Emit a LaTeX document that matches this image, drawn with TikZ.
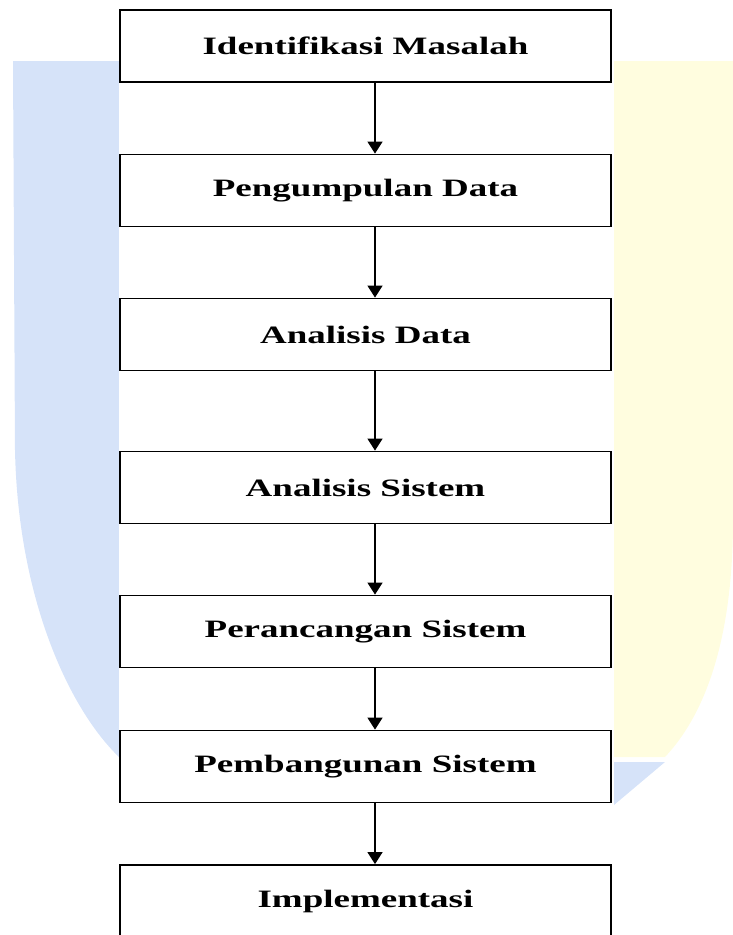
\documentclass[tikz,border=0pt]{standalone}
\usepackage{fontspec}
\setmainfont{Liberation Serif}[FakeStretch=1.48]
\usetikzlibrary{arrows.meta}
\definecolor{wmblue}{RGB}{214,227,249}
\definecolor{wmyellow}{RGB}{255,253,223}

\begin{document}
\begin{tikzpicture}[x=1pt,y=-1pt,
    box/.style={draw,line width=1.8pt,fill=white,minimum width=491pt,minimum height=72pt,inner sep=0pt,
      font=\fontsize{25}{30}\selectfont\bfseries},
    flow/.style={line width=1.3pt,-{Triangle[width=15pt,length=12pt]}}]
  \useasboundingbox (0,0) rectangle (733,935);
  \clip (0,0) rectangle (733,935);
  % faint logo behind the chart
  \fill[wmblue] (13,61) -- (119,61) -- (119,757) .. controls (70,710) and (18,600) .. (15,450) -- cycle;
  \fill[wmyellow] (614,61) -- (733,61) -- (733,520) .. controls (733,650) and (700,720) .. (665,757) -- (614,757) -- cycle;
  \fill[wmblue] (614,762) -- (665,762) -- (614,805) -- cycle;
  \fill[white] (119,0) rectangle (614,935);
  % steps
  \node[box] (idm) at (365.5,46)    {Identifikasi Masalah};
  \node[box] (pgd) at (365.5,190.5) {Pengumpulan Data};
  \node[box] (and) at (365.5,334.5) {Analisis Data};
  \node[box] (ans) at (365.5,487.5) {Analisis Sistem};
  \node[box] (prs) at (365.5,631.5) {Perancangan Sistem};
  \node[box] (pbs) at (365.5,766.5) {Pembangunan Sistem};
  \node[box] (imp) at (365.5,901)   {Implementasi};
  \draw[flow] ([xshift=9.5pt]idm.south) -- ([xshift=9.5pt]pgd.north);
  \draw[flow] ([xshift=9.5pt]pgd.south) -- ([xshift=9.5pt]and.north);
  \draw[flow] ([xshift=9.5pt]and.south) -- ([xshift=9.5pt]ans.north);
  \draw[flow] ([xshift=9.5pt]ans.south) -- ([xshift=9.5pt]prs.north);
  \draw[flow] ([xshift=9.5pt]prs.south) -- ([xshift=9.5pt]pbs.north);
  \draw[flow] ([xshift=9.5pt]pbs.south) -- ([xshift=9.5pt]imp.north);
\end{tikzpicture}
\end{document}
